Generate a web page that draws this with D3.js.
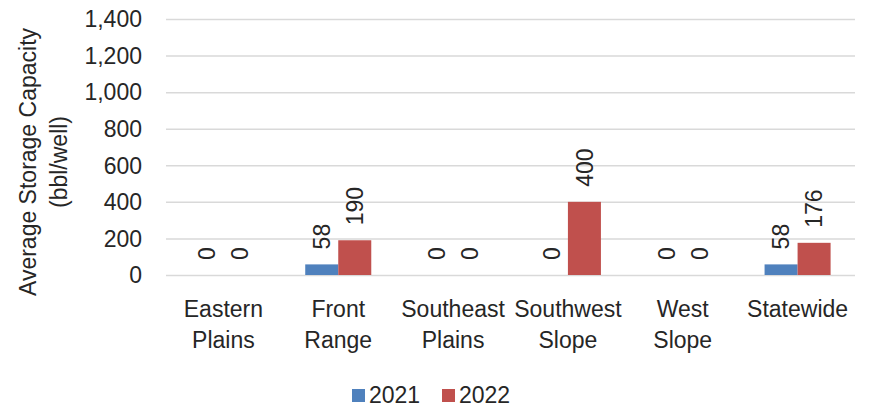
<!DOCTYPE html>
<html>
<head>
<meta charset="utf-8">
<script src="https://cdn.jsdelivr.net/npm/d3@7"></script>
<style>
  body { margin: 0; background: #fff; }
  text { font-family: "Liberation Sans", Arial, sans-serif; fill: #262626; }
</style>
</head>
<body>
<div id="chart"></div>
<script>
  // data
  var categories = [["Eastern", "Plains"], ["Front", "Range"], ["Southeast", "Plains"],
                    ["Southwest", "Slope"], ["West", "Slope"], ["Statewide"]];
  var seriesNames = ["2021", "2022"];
  var values2021 = [0, 58, 0, 0, 0, 58];
  var values2022 = [0, 190, 0, 400, 0, 176];
  var yTicks = [0, 200, 400, 600, 800, 1000, 1200, 1400];
  var colors = ["#4F81BD", "#C0504D"];

  var W = 871, H = 408, FS = "23px";
  var svg = d3.select("#chart").append("svg")
    .attr("width", W).attr("height", H);

  var x0 = d3.scaleBand()
    .domain(d3.range(categories.length))
    .range([166, 855])
    .paddingInner(0.425)
    .paddingOuter(0.2125);

  var x1 = d3.scaleBand()
    .domain(seriesNames)
    .range([0, x0.bandwidth()]);

  var y = d3.scaleLinear().domain([0, 1400]).range([275, 19]);

  // gridlines
  svg.append("g").selectAll("line")
    .data(yTicks)
    .enter().append("line")
    .attr("x1", 166).attr("x2", 855)
    .attr("y1", function (d) { return y(d) + 0.5; })
    .attr("y2", function (d) { return y(d) + 0.5; })
    .attr("stroke", "#d9d9d9")
    .attr("stroke-width", 1.5);

  // y tick labels
  svg.append("g").selectAll("text")
    .data(yTicks)
    .enter().append("text")
    .attr("x", 142)
    .attr("y", function (d) { return y(d); })
    .attr("dy", "0.36em")
    .attr("text-anchor", "end")
    .style("font-size", FS)
    .text(function (d) { return d3.format(",")(d); });

  // y axis title
  var title = svg.append("text")
    .attr("transform", "translate(0,162) rotate(-90)")
    .attr("text-anchor", "middle")
    .style("font-size", FS);
  title.append("tspan").attr("x", 0).attr("y", 36).text("Average Storage Capacity");
  title.append("tspan").attr("x", 0).attr("y", 67).text("(bbl/well)");

  var rows = categories.map(function (c, i) {
    return { i: i, vals: [values2021[i], values2022[i]] };
  });

  var groups = svg.append("g").selectAll("g")
    .data(rows)
    .enter().append("g")
    .attr("transform", function (d) { return "translate(" + x0(d.i) + ",0)"; });

  var cells = function (d) {
    return d.vals.map(function (v, k) { return { key: seriesNames[k], k: k, v: v }; });
  };

  groups.selectAll("rect")
    .data(cells)
    .enter().append("rect")
    .attr("x", function (d) { return x1(d.key); })
    .attr("width", x1.bandwidth())
    .attr("y", function (d) { return y(d.v); })
    .attr("height", function (d) { return y(0) - y(d.v); })
    .attr("fill", function (d) { return colors[d.k]; });

  // value labels, rotated
  groups.selectAll("text.val")
    .data(cells)
    .enter().append("text")
    .attr("class", "val")
    .attr("transform", function (d) {
      var cx = x1(d.key) + x1.bandwidth() / 2;
      return "translate(" + cx + "," + (y(d.v) - 15) + ") rotate(-90)";
    })
    .attr("dy", "0.36em")
    .style("font-size", FS)
    .text(function (d) { return d.v; });

  // category labels
  var catText = svg.append("g").selectAll("text")
    .data(categories)
    .enter().append("text")
    .attr("text-anchor", "middle")
    .style("font-size", FS);
  catText.selectAll("tspan")
    .data(function (d, i) { return d.map(function (s) { return { s: s, i: i }; }); })
    .enter().append("tspan")
    .attr("x", function (d) { return x0(d.i) + x0.bandwidth() / 2; })
    .attr("y", function (d, j) { return 317 + j * 31; })
    .text(function (d) { return d.s; });

  // legend
  var legend = svg.append("g").selectAll("g")
    .data(seriesNames)
    .enter().append("g")
    .attr("transform", function (d, i) { return "translate(" + (352 + i * 90) + ",0)"; });
  legend.append("rect")
    .attr("x", 0).attr("y", 389)
    .attr("width", 13).attr("height", 13)
    .attr("fill", function (d, i) { return colors[i]; });
  legend.append("text")
    .attr("x", 17).attr("y", 403)
    .style("font-size", FS)
    .text(function (d) { return d; });
</script>
</body>
</html>
